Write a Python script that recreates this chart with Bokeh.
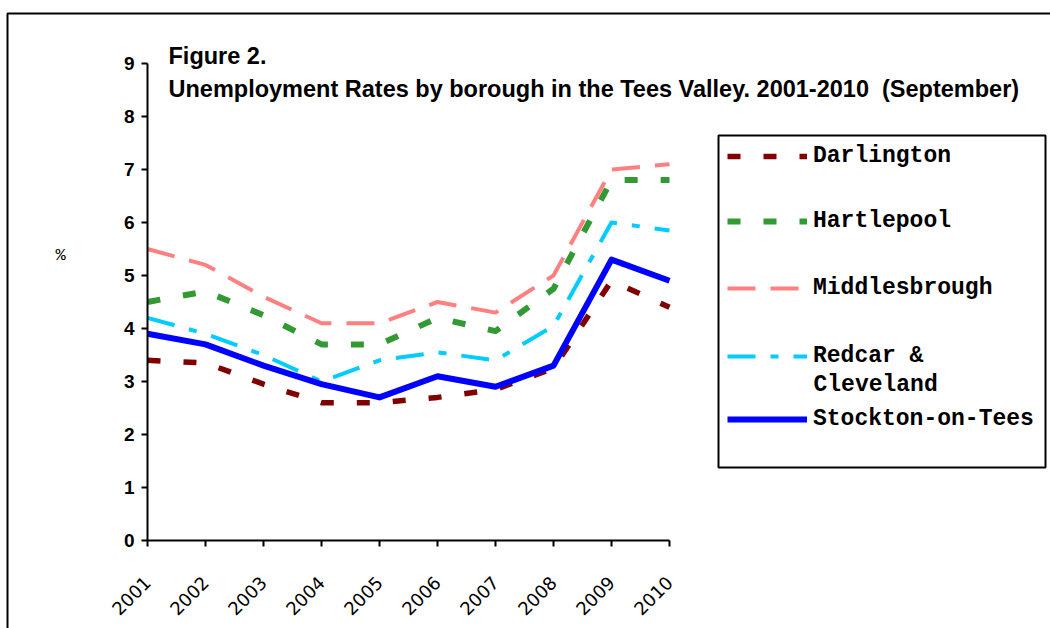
from bokeh.plotting import figure
from bokeh.models import (Range1d, FixedTicker, Legend, LegendItem, Label, BoxAnnotation)
from bokeh.embed import file_html
from bokeh.resources import INLINE
from math import pi

years = [2001, 2002, 2003, 2004, 2005, 2006, 2007, 2008, 2009, 2010]
darlington = [3.4, 3.35, 2.95, 2.6, 2.6, 2.7, 2.85, 3.25, 4.9, 4.4]
hartlepool = [4.5, 4.7, 4.25, 3.7, 3.7, 4.2, 3.95, 4.75, 6.8, 6.8]
middlesbrough = [5.5, 5.2, 4.6, 4.1, 4.1, 4.5, 4.3, 5.0, 7.0, 7.1]
redcar = [4.2, 3.9, 3.5, 3.0, 3.4, 3.55, 3.4, 4.05, 6.0, 5.85]
stockton = [3.9, 3.7, 3.3, 2.95, 2.7, 3.1, 2.9, 3.3, 5.3, 4.9]
y_ticks = [0, 1, 2, 3, 4, 5, 6, 7, 8, 9]

W, H = 1050, 628
# pixel layout of the plotting area (axis origin and extents)
AX_L, AX_R, AX_B, AX_T = 147, 669, 540, 63
xs = (AX_R - AX_L) / (years[-1] - years[0])
ys = (AX_B - AX_T) / (y_ticks[-1] - y_ticks[0])
x_start = years[0] - AX_L / xs
x_end = years[0] + (W - AX_L) / xs
y_start = -(H - AX_B) / ys
y_end = AX_B / ys

p = figure(output_backend="svg", toolbar_location=None, width=W, height=H,
           min_border=0, min_border_left=0, min_border_right=0,
           min_border_top=0, min_border_bottom=0,
           x_range=Range1d(x_start, x_end), y_range=Range1d(y_start, y_end))
p.outline_line_color = None
p.xgrid.visible = False
p.ygrid.visible = False
p.background_fill_color = "white"
p.border_fill_color = "white"

for ax in (p.xaxis[0], p.yaxis[0]):
    ax.axis_line_width = 2
    ax.axis_line_color = "black"
    ax.major_tick_line_width = 2
    ax.major_tick_line_color = "black"
    ax.major_tick_in = 0
    ax.major_tick_out = 6
    ax.minor_tick_line_color = None
    ax.major_label_text_color = "black"

p.xaxis.fixed_location = 0
p.yaxis.fixed_location = years[0]
p.xaxis.bounds = (years[0], years[-1])
p.yaxis.bounds = (y_ticks[0], y_ticks[-1])
p.xaxis.ticker = FixedTicker(ticks=years)
p.yaxis.ticker = FixedTicker(ticks=y_ticks)
p.yaxis.major_label_text_font = "Liberation Sans"
p.yaxis.major_label_text_font_style = "bold"
p.yaxis.major_label_text_font_size = "19px"
p.yaxis.major_label_standoff = 7
p.xaxis.major_label_text_font = "DejaVu Sans"
p.xaxis.major_label_text_font_size = "18px"
p.xaxis.major_label_orientation = pi / 4
p.xaxis.major_label_standoff = 33

common = dict(line_cap="butt", line_join="round")
r_d = p.line(years, darlington, line_color="#800000", line_width=5.5, line_dash="13 23", **common)
r_h = p.line(years, hartlepool, line_color="#339933", line_width=6, line_dash="13 23", **common)
r_m = p.line(years, middlesbrough, line_color="#FF8080", line_width=4, line_dash="28 15", **common)
r_r = p.line(years, redcar, line_color="#00CCFF", line_width=4, line_dash="28 15 8 15", **common)
r_s = p.line(years, stockton, line_color="#0000FF", line_width=6, **common)

def sy(py):
    return H - py

# outer border and legend box (screen units)
box_style = dict(left_units="screen", right_units="screen",
                 top_units="screen", bottom_units="screen",
                 fill_alpha=0, line_color="black", line_alpha=1.0, line_width=2)
p.add_layout(BoxAnnotation(left=7, right=W + 50, top=sy(13), bottom=-50, **box_style))
p.add_layout(BoxAnnotation(left=718, right=1045, top=sy(135), bottom=sy(467), **box_style))

LF = "Liberation Mono"
LFS = "23px"
entries = [("Darlington", r_d, 156), ("Hartlepool", r_h, 221), ("Middlesbrough", r_m, 288),
           ("Redcar &", r_r, 356), ("Stockton-on-Tees", r_s, 419)]
for lab, r, cy in entries:
    lg = Legend(items=[LegendItem(label=lab, renderers=[r])],
                location=(727, sy(cy + 13)),
                border_line_color=None, background_fill_alpha=0,
                padding=0, margin=0, spacing=0,
                glyph_width=80, glyph_height=26, label_height=26,
                label_standoff=6,
                label_text_font=LF, label_text_font_style="bold",
                label_text_font_size=LFS, label_text_color="black")
    p.add_layout(lg, "center")

p.add_layout(Label(x=813, y=sy(384), x_units="screen", y_units="screen",
                   text="Cleveland", text_font=LF, text_font_style="bold",
                   text_font_size=LFS, text_baseline="middle", text_align="left",
                   text_color="black"))

# titles
p.add_layout(Label(x=168, y=sy(55), x_units="screen", y_units="screen",
                   text="Figure 2.", text_font="Liberation Sans", text_font_style="bold",
                   text_font_size="23.5px", text_baseline="alphabetic", text_color="black"))
p.add_layout(Label(x=168, y=sy(88), x_units="screen", y_units="screen",
                   text="Unemployment Rates by borough in the Tees Valley. 2001-2010\u00a0 (September)",
                   text_font="Liberation Sans", text_font_style="bold",
                   text_font_size="23.5px", text_baseline="alphabetic", text_color="black"))
p.add_layout(Label(x=60, y=sy(255), x_units="screen", y_units="screen",
                   text="%", text_font=LF, text_font_size="17px",
                   text_baseline="middle", text_align="center", text_color="black"))

open("out.html", "w").write(file_html(p, INLINE))
